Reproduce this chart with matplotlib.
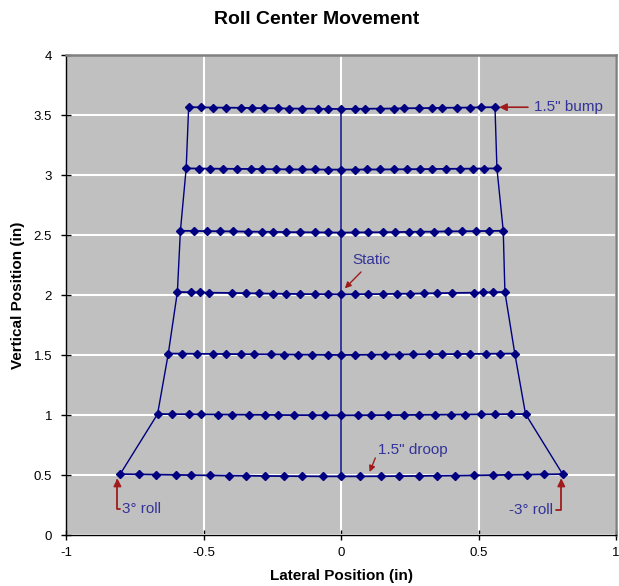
import matplotlib
matplotlib.use('Agg')
from matplotlib import pyplot as plt

plt.rcParams['font.family'] = ['Liberation Sans', 'DejaVu Sans']

# roll center positions, one row per heave step, roll swept from +3 to -3 deg
row1_x = [-0.803, -0.734, -0.674, -0.601, -0.547, -0.477, -0.409, -0.345, -0.278, -0.209, -0.141, -0.067, 0.0,
          0.070, 0.144, 0.212, 0.282, 0.349, 0.416, 0.484, 0.551, 0.606, 0.675, 0.739, 0.806]
row1_y = [0.507, 0.505, 0.503, 0.501, 0.499, 0.497, 0.495, 0.494, 0.492, 0.491, 0.490, 0.489, 0.489,
          0.489, 0.490, 0.491, 0.492, 0.494, 0.495, 0.497, 0.499, 0.501, 0.503, 0.505, 0.507]

row2_x = [-0.667, -0.613, -0.554, -0.509, -0.448, -0.398, -0.336, -0.278, -0.229, -0.171, -0.106, -0.057, 0.0,
          0.060, 0.109, 0.171, 0.229, 0.282, 0.340, 0.401, 0.450, 0.509, 0.560, 0.617, 0.671]
row2_y = [1.008, 1.007, 1.006, 1.005, 1.004, 1.003, 1.002, 1.001, 1.000, 0.999, 0.999, 0.998, 0.998,
          0.998, 0.999, 0.999, 1.000, 1.001, 1.002, 1.003, 1.004, 1.005, 1.006, 1.007, 1.008]

row3_x = [-0.628, -0.577, -0.525, -0.465, -0.418, -0.364, -0.316, -0.255, -0.209, -0.157, -0.106, -0.047, 0.0,
          0.052, 0.109, 0.161, 0.212, 0.260, 0.319, 0.367, 0.422, 0.469, 0.527, 0.578, 0.632]
row3_y = [1.512, 1.511, 1.510, 1.509, 1.508, 1.507, 1.506, 1.505, 1.504, 1.503, 1.502, 1.501, 1.500,
          1.501, 1.502, 1.503, 1.504, 1.505, 1.506, 1.507, 1.508, 1.509, 1.510, 1.511, 1.512]

row4_x = [-0.595, -0.544, -0.511, -0.479, -0.397, -0.346, -0.298, -0.246, -0.199, -0.150, -0.096, -0.048, 0.0,
          0.052, 0.097, 0.151, 0.202, 0.250, 0.301, 0.349, 0.403, 0.482, 0.515, 0.551, 0.596]
row4_y = [2.025, 2.023, 2.021, 2.019, 2.017, 2.015, 2.013, 2.011, 2.010, 2.008, 2.007, 2.006, 2.005,
          2.006, 2.007, 2.008, 2.010, 2.011, 2.013, 2.015, 2.017, 2.019, 2.021, 2.023, 2.025]

row5_x = [-0.584, -0.535, -0.487, -0.439, -0.391, -0.338, -0.289, -0.246, -0.199, -0.150, -0.096, -0.048, 0.0,
          0.052, 0.097, 0.151, 0.196, 0.249, 0.289, 0.339, 0.390, 0.440, 0.491, 0.538, 0.590]
row5_y = [2.535, 2.534, 2.532, 2.531, 2.530, 2.528, 2.527, 2.526, 2.524, 2.523, 2.522, 2.521, 2.520,
          2.521, 2.522, 2.523, 2.524, 2.526, 2.527, 2.528, 2.530, 2.531, 2.532, 2.534, 2.535]

row6_x = [-0.563, -0.517, -0.477, -0.428, -0.378, -0.326, -0.289, -0.238, -0.189, -0.142, -0.096, -0.048, 0.0,
          0.052, 0.094, 0.141, 0.192, 0.240, 0.287, 0.332, 0.383, 0.433, 0.479, 0.520, 0.567]
row6_y = [3.055, 3.054, 3.053, 3.052, 3.051, 3.050, 3.049, 3.048, 3.047, 3.046, 3.046, 3.045, 3.045,
          3.045, 3.046, 3.046, 3.047, 3.048, 3.049, 3.050, 3.051, 3.052, 3.053, 3.054, 3.055]

row7_x = [-0.554, -0.508, -0.465, -0.418, -0.364, -0.324, -0.279, -0.229, -0.189, -0.142, -0.084, -0.046, 0.0,
          0.052, 0.088, 0.141, 0.192, 0.230, 0.282, 0.330, 0.368, 0.422, 0.470, 0.510, 0.560]
row7_y = [3.565, 3.564, 3.562, 3.561, 3.560, 3.558, 3.557, 3.556, 3.554, 3.553, 3.552, 3.551, 3.550,
          3.551, 3.552, 3.553, 3.554, 3.556, 3.557, 3.558, 3.560, 3.561, 3.562, 3.564, 3.565]

rows = [(row1_x, row1_y), (row2_x, row2_y), (row3_x, row3_y), (row4_x, row4_y),
        (row5_x, row5_y), (row6_x, row6_y), (row7_x, row7_y)]

x_ticks = [-1, -0.5, 0, 0.5, 1]
x_labels = ['-1', '-0.5', '0', '0.5', '1']
y_ticks = [0, 0.5, 1, 1.5, 2, 2.5, 3, 3.5, 4]
y_labels = ['0', '0.5', '1', '1.5', '2', '2.5', '3', '3.5', '4']

navy = '#000080'
txt = '#333399'
arrow_red = '#a01c1c'

fig = plt.figure(figsize=(6.19, 5.86), dpi=100)
ax = fig.add_axes([66 / 619, 51 / 586, 550 / 619, 480 / 586])
ax.set_facecolor('#c0c0c0')

# heave rows
for rx, ry in rows:
    ax.plot(rx, ry, color=navy, lw=1.3, marker='D', ms=4.4, mec=navy, mfc=navy, zorder=3)

# connecting lines: +3 deg edge, zero roll, -3 deg edge
left_x = [r[0][0] for r in rows]
left_y = [r[1][0] for r in rows]
mid_x = [r[0][12] for r in rows]
mid_y = [r[1][12] for r in rows]
right_x = [r[0][-1] for r in rows]
right_y = [r[1][-1] for r in rows]
ax.plot(left_x, left_y, color=navy, lw=1.0, zorder=2)
ax.plot(mid_x, mid_y, color=navy, lw=1.1, zorder=2)
ax.plot(right_x, right_y, color=navy, lw=1.0, zorder=2)

ax.set_xlim(-1, 1)
ax.set_ylim(0, 4)
ax.set_xticks(x_ticks)
ax.set_xticklabels(x_labels)
ax.set_yticks(y_ticks)
ax.set_yticklabels(y_labels)
ax.grid(True, color='white', lw=1.5)
ax.set_axisbelow(True)
ax.tick_params(direction='inout', length=7, width=1, labelsize=9.5, colors='black')
ax.tick_params(axis='x', pad=5.5)
ax.tick_params(axis='y', pad=6.5)

for side in ['top', 'right']:
    ax.spines[side].set_color('#808080')
    ax.spines[side].set_linewidth(1.8)
for side in ['left', 'bottom']:
    ax.spines[side].set_color('black')
    ax.spines[side].set_linewidth(1.0)

fig.text(341 / 619, 1 - 576 / 586, 'Lateral Position (in)', fontsize=11, fontweight='bold',
         ha='center', va='center')
fig.text(18 / 619, 1 - 295 / 586, 'Vertical Position (in)', fontsize=11, fontweight='bold',
         ha='center', va='center', rotation=90)
fig.text(317 / 619, 1 - 20 / 586, 'Roll Center Movement', fontsize=14, fontweight='bold',
         ha='center', va='center')

# annotations
ax.annotate('1.5" bump', xy=(row7_x[-1] + 0.015, row7_y[-1]), xytext=(0.70, row7_y[-1]),
            fontsize=11, color=txt, va='center', ha='left',
            arrowprops=dict(arrowstyle='-|>', color=arrow_red, lw=1.2, mutation_scale=11,
                            shrinkA=2, shrinkB=0))
ax.annotate('Static', xy=(0.014, 2.055), xytext=(0.04, 2.29),
            fontsize=11, color=txt, va='center', ha='left',
            arrowprops=dict(arrowstyle='-|>', color=arrow_red, lw=1.0, mutation_scale=9,
                            relpos=(0.36, 0.0), shrinkA=2, shrinkB=0))
ax.annotate('1.5" droop', xy=(0.104, 0.525), xytext=(0.135, 0.705),
            fontsize=11, color=txt, va='center', ha='left',
            arrowprops=dict(arrowstyle='-|>', color=arrow_red, lw=1.0, mutation_scale=9,
                            relpos=(0.0, 0.45), shrinkA=0, shrinkB=0))
ax.annotate('3° roll', xy=(row1_x[0] - 0.01, row1_y[0] - 0.035), xytext=(-0.795, 0.22),
            fontsize=11, color=txt, va='center', ha='left',
            arrowprops=dict(arrowstyle='-|>', color=arrow_red, lw=1.3, mutation_scale=11,
                            connectionstyle='angle,angleA=0,angleB=90,rad=0',
                            relpos=(0.0, 0.5), shrinkA=0, shrinkB=0))
ax.annotate('-3° roll', xy=(row1_x[-1] - 0.005, row1_y[-1] - 0.035), xytext=(0.77, 0.21),
            fontsize=11, color=txt, va='center', ha='right',
            arrowprops=dict(arrowstyle='-|>', color=arrow_red, lw=1.3, mutation_scale=11,
                            connectionstyle='angle,angleA=0,angleB=90,rad=0',
                            relpos=(1.0, 0.5), shrinkA=0, shrinkB=0))

fig.savefig('out.png', dpi=100)
